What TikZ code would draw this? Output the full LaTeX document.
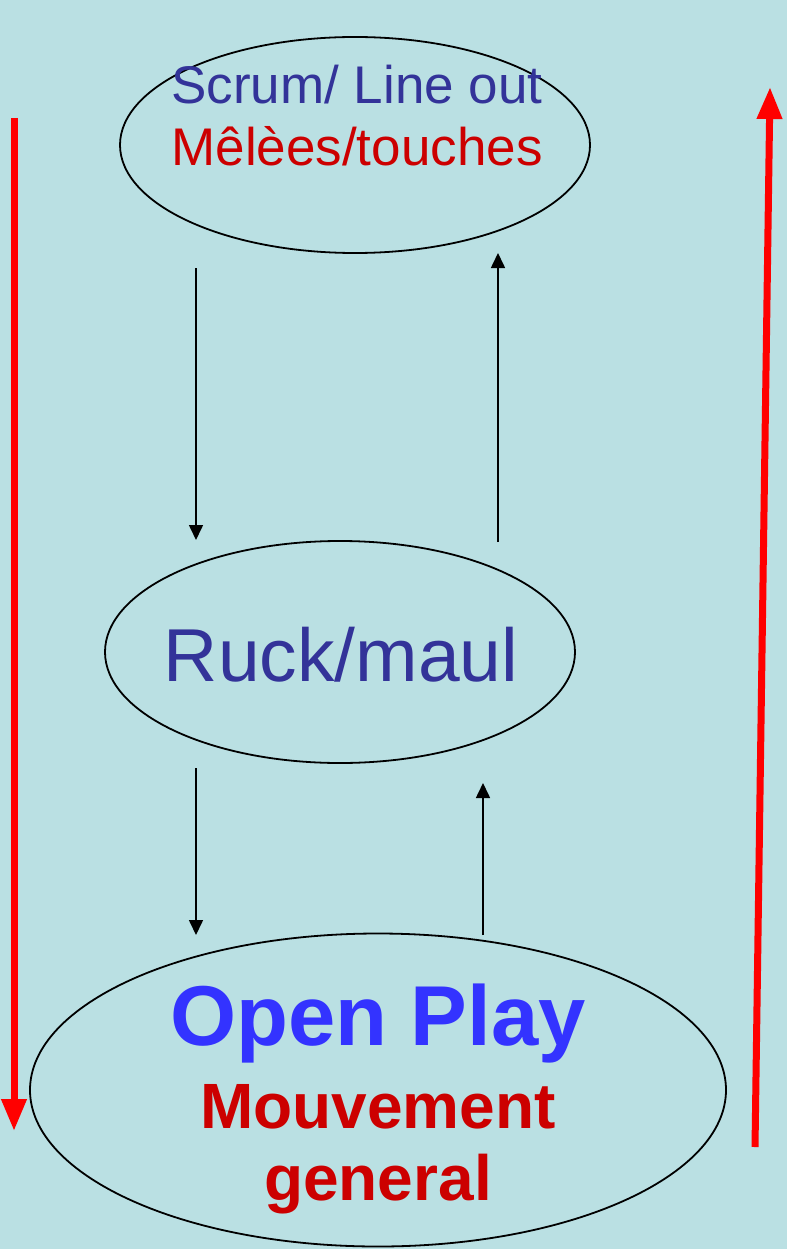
\documentclass[tikz,border=0pt]{standalone}
\usepackage{fontspec}
\setmainfont{Liberation Sans}
\usetikzlibrary{shapes.geometric,arrows.meta}
\definecolor{bgcol}{RGB}{186,224,227}
\definecolor{navy}{RGB}{51,51,153}
\definecolor{darkred}{RGB}{204,0,0}
\definecolor{brightblue}{RGB}{51,51,255}
\begin{document}
\begin{tikzpicture}[x=1pt,y=-1pt,
	oval/.style={ellipse,draw,line width=1.8pt,inner sep=0pt},
	txt/.style={anchor=base,inner sep=0pt},
	flow/.style={-{Triangle[width=14pt,length=15pt]},line width=1.6pt},
	cycle/.style={-{Triangle[width=24pt,length=32pt]},line width=7pt,red}]

	\fill[bgcol] (0,0) rectangle (787,1249);
	\useasboundingbox (0,0) rectangle (787,1249);

	\node[oval, minimum width=470, minimum height=216] (scrum) at (355,145) {};
	\node[txt, text=navy, font=\fontsize{53}{53}\selectfont] (scrumen) at (357,104) {Scrum/ Line out};
	\node[txt, text=darkred, font=\fontsize{53}{53}\selectfont] (scrumfr) at (357,166) {Mêlèes/touches};

	\node[oval, minimum width=470, minimum height=222] (ruck) at (340,652) {};
	\node[txt, text=navy, font=\fontsize{75}{75}\selectfont] (rucktxt) at (341,681) {Ruck/maul};

	\node[oval, minimum width=696, minimum height=313] (open) at (378,1090) {};
	\node[txt, text=brightblue, font=\bfseries\fontsize{85}{85}\selectfont] (openen) at (378,1045) {Open Play};
	\node[txt, text=darkred, font=\bfseries\fontsize{64}{64}\selectfont] (openfr) at (378,1128) {Mouvement};
	\node[txt, text=darkred, font=\bfseries\fontsize{64}{64}\selectfont] (opengen) at (378,1200) {general};

	% black arrows between the ovals
	\coordinate (a1) at (196,268);
	\coordinate (a2) at (196,540);
	\coordinate (b1) at (498,542);
	\coordinate (b2) at (498,253);
	\coordinate (c1) at (196,768);
	\coordinate (c2) at (196,935);
	\coordinate (d1) at (483,935);
	\coordinate (d2) at (483,783);
	\draw[flow] (a1) -- (a2);
	\draw[flow] (b1) -- (b2);
	\draw[flow] (c1) -- (c2);
	\draw[flow] (d1) -- (d2);

	% red arrows at the sides
	\coordinate (down1) at (14,118);
	\coordinate (down2) at (14,1131);
	\coordinate (up1) at (755,1147);
	\coordinate (up2) at (770,87);
	\draw[cycle] (down1) -- (down2);
	\draw[cycle] (up1) -- (up2);

\end{tikzpicture}
\end{document}
